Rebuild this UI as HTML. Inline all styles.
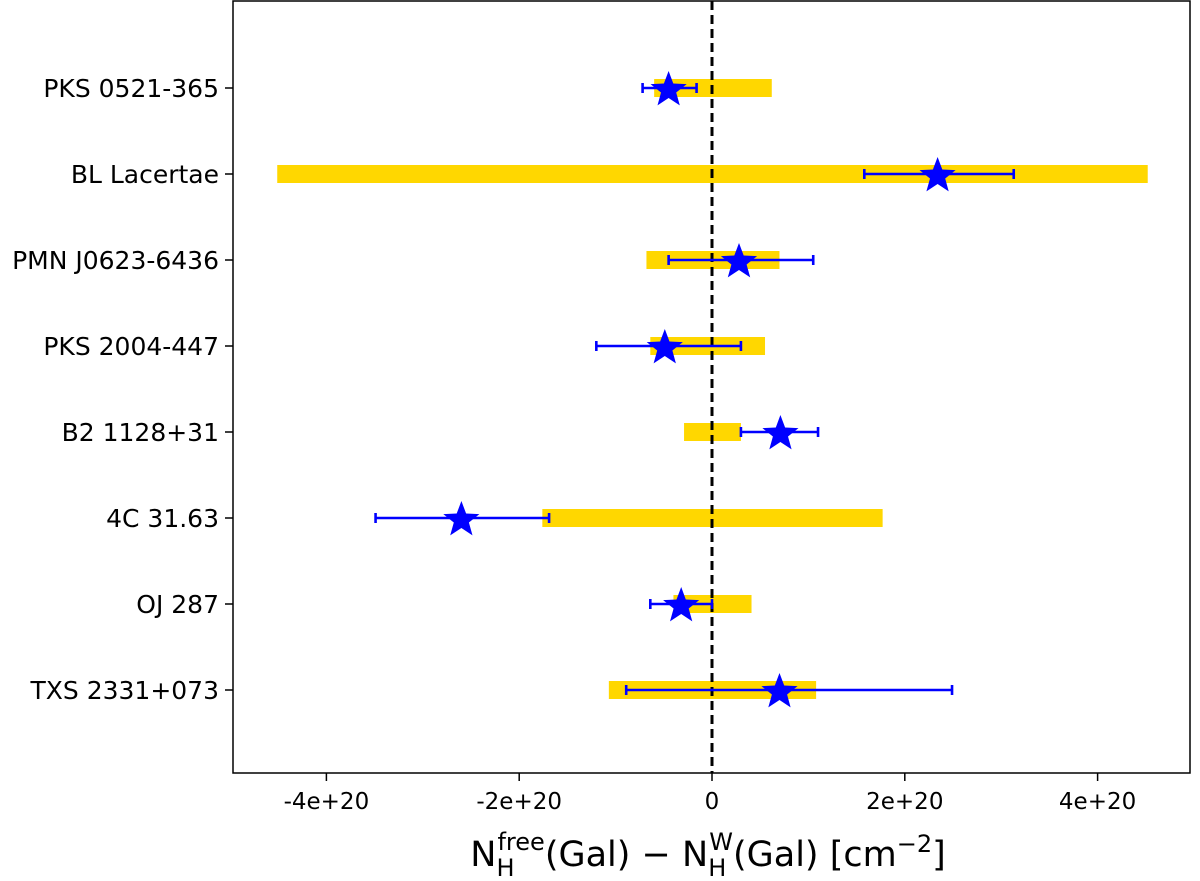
<!DOCTYPE html>
<html><head><meta charset="utf-8"><style>
body{margin:0;background:#fff}
svg{display:block}
text{font-family:"DejaVu Sans","Liberation Sans",sans-serif;fill:#000}
</style></head><body>
<svg id="chart" width="1200" height="881">
<g id="bars"></g>
<line id="zero" stroke="#000" stroke-width="3" stroke-dasharray="9,5"/>
<g id="errs"></g>
<g id="stars"></g>
<rect x="233" y="1" width="957" height="772" fill="none" stroke="#000" stroke-width="1.5"/>
<g id="axes"></g>
<text x="708" y="866" font-size="35" text-anchor="middle">N<tspan font-size="24" dy="10">H</tspan><tspan font-size="24" dy="-26" dx="-17">free</tspan><tspan dy="16">(Gal) − N</tspan><tspan font-size="24" dy="10">H</tspan><tspan font-size="24" dy="-26" dx="-17">W</tspan><tspan dy="16">(Gal)  [cm</tspan><tspan font-size="24" dy="-14">−2</tspan><tspan dy="14">]</tspan></text>
</svg>
<script>
const categories=["PKS 0521-365","BL Lacertae","PMN J0623-6436","PKS 2004-447","B2 1128+31","4C 31.63","OJ 287","TXS 2331+073"];
const barLo=[-0.60,-4.51,-0.68,-0.64,-0.29,-1.76,-0.40,-1.07];
const barHi=[0.62,4.52,0.70,0.55,0.30,1.77,0.41,1.08];
const starVal=[-0.45,2.34,0.28,-0.49,0.71,-2.60,-0.32,0.70];
const errLo=[-0.72,1.58,-0.45,-1.20,0.30,-3.49,-0.64,-0.89];
const errHi=[-0.16,3.13,1.05,0.30,1.10,-1.69,0.00,2.49];
const xTicks=[-4,-2,0,2,4];
const xTickLabels=["-4e+20","-2e+20","0","2e+20","4e+20"];
const NS="http://www.w3.org/2000/svg";
const x=v=>712+v*96.4;
const y=i=>88+i*86;
function mk(t,a,p){const e=document.createElementNS(NS,t);for(const k in a)e.setAttribute(k,a[k]);p.appendChild(e);return e;}
const bars=document.getElementById('bars'),errs=document.getElementById('errs'),stars=document.getElementById('stars'),axes=document.getElementById('axes');
const z=document.getElementById('zero');z.setAttribute('x1',x(0));z.setAttribute('x2',x(0));z.setAttribute('y1',1);z.setAttribute('y2',773);
function starPts(cx,cy,R){const r=R*0.42;let s=[];for(let k=0;k<10;k++){const a=-Math.PI/2+k*Math.PI/5;const rr=k%2?r:R;s.push((cx+rr*Math.cos(a)).toFixed(1)+','+(cy+rr*Math.sin(a)).toFixed(1));}return s.join(' ');}
categories.forEach((c,i)=>{
 const b=mk('rect',{x:x(barLo[i]),y:y(i)-9,width:x(barHi[i])-x(barLo[i]),height:18,fill:'#ffd700'},bars);
 
 
 const g=mk('g',{stroke:'#0000ff','stroke-width':2.6},errs);
 
 
 mk('line',{x1:x(errLo[i]),x2:x(errHi[i]),y1:y(i),y2:y(i)},g);
 mk('line',{x1:x(errLo[i]),x2:x(errLo[i]),y1:y(i)-5,y2:y(i)+5},g);
 mk('line',{x1:x(errHi[i]),x2:x(errHi[i]),y1:y(i)-5,y2:y(i)+5},g);
 const s=mk('polygon',{points:starPts(x(starVal[i]),y(i)+2,19),fill:'#0000ff'},stars);
 
 
 mk('line',{x1:225,x2:233,y1:y(i),y2:y(i),stroke:'#000','stroke-width':1.5},axes);
 const t=mk('text',{x:219,y:y(i)+9,'font-size':25,'text-anchor':'end'},axes);
 t.textContent=c;
 
 
});
xTicks.forEach((v,i)=>{
 mk('line',{x1:x(v),x2:x(v),y1:773,y2:781,stroke:'#000','stroke-width':1.5},axes);
 const t=mk('text',{x:x(v),y:809,'font-size':23,'text-anchor':'middle'},axes);
 t.textContent=xTickLabels[i];
 
 
});
</script>
</body></html>
